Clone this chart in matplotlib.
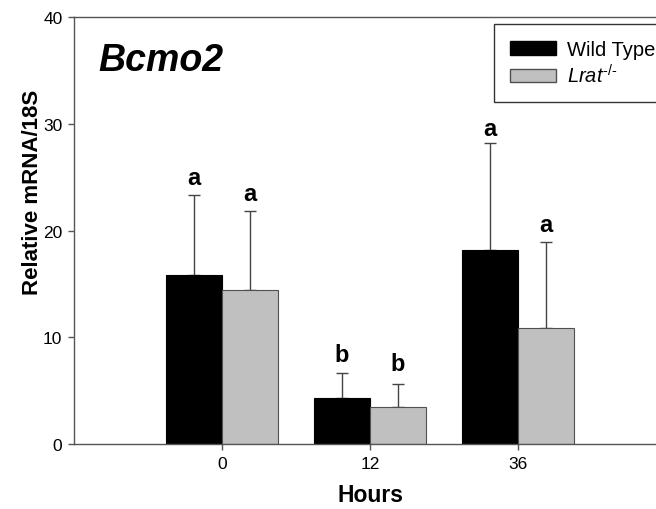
import matplotlib
matplotlib.use("Agg")
import matplotlib.pyplot as plt
from matplotlib.patches import Patch
import numpy as np

plt.rcParams['font.family'] = ['Liberation Sans', 'DejaVu Sans']
plt.rcParams['mathtext.fontset'] = 'custom'
plt.rcParams['mathtext.rm'] = 'Liberation Sans'
plt.rcParams['mathtext.it'] = 'Liberation Sans:italic'

hours = ["0", "12", "36"]
wt_mean = [15.8, 4.3, 18.2]
wt_err = [7.55, 2.35, 10.0]
lrat_mean = [14.4, 3.5, 10.85]
lrat_err = [7.45, 2.1, 8.05]
wt_letters = ["a", "b", "a"]
lrat_letters = ["a", "b", "a"]
wt_letter_y = [24.4, 7.8, 28.95]
lrat_letter_y = [22.9, 6.9, 20.0]

fig = plt.figure(figsize=(6.56, 5.10), dpi=100)
ax = fig.add_axes([74/656, 65/510, (666-74)/656, (445-18)/510])

x = np.arange(len(hours))
w = 0.378
off = 0.19
ecol = '#444444'
ax.bar(x - off, wt_mean, w, color='black', edgecolor='black', linewidth=0.8, zorder=2)
ax.bar(x + off, lrat_mean, w, color='#c0c0c0', edgecolor='#505050', linewidth=0.8, zorder=2)
ax.errorbar(x - off, wt_mean, yerr=[np.zeros(3), wt_err], fmt='none', ecolor=ecol,
            elinewidth=1, capsize=4.3, capthick=1, zorder=1)
ax.errorbar(x + off, lrat_mean, yerr=[np.zeros(3), lrat_err], fmt='none', ecolor=ecol,
            elinewidth=1, capsize=4.3, capthick=1, zorder=1)
for i in range(3):
    ax.text(x[i] - off, wt_letter_y[i], wt_letters[i], ha='center', va='baseline',
            fontsize=17, fontweight='bold')
    ax.text(x[i] + off, lrat_letter_y[i], lrat_letters[i], ha='center', va='baseline',
            fontsize=17, fontweight='bold')

ax.set_xlim(-1, 3)
ax.set_ylim(0, 40)
ax.set_xticks(x)
ax.set_xticklabels(hours)
ax.set_yticks([0, 10, 20, 30, 40])
for s in ax.spines.values():
    s.set_color('#555555')
    s.set_linewidth(1)
ax.tick_params(direction='out', length=4.3, width=1, color='#555555', labelsize=12.5, pad=4)

ax.set_xlabel("Hours", fontsize=16.5, fontweight='bold', labelpad=9)
ax.set_ylabel("Relative mRNA/18S", fontsize=16, fontweight='bold')
ax.yaxis.set_label_coords(-31/592, (445-192)/427)

ax.text(24/592, 1 - 43/427, "Bcmo2", transform=ax.transAxes, fontsize=27,
        fontweight='bold', fontstyle='italic', va='center', ha='left')

handles = [Patch(facecolor='black', edgecolor='black', label='Wild Type'),
           Patch(facecolor='#c0c0c0', edgecolor='#505050', label=r'$\mathit{Lrat}^{\mathit{\text{-/-}}}$')]
leg = fig.legend(handles=handles, loc='upper left', bbox_to_anchor=(494/656, 1 - 25/510),
                 borderaxespad=0, fontsize=14.5, frameon=True, fancybox=False, edgecolor='black',
                 borderpad=0.8, handlelength=2.29, handleheight=0.63, handletextpad=0.55,
                 labelspacing=0.2)
leg.get_frame().set_linewidth(1)

fig.savefig("out.png", dpi=100)
